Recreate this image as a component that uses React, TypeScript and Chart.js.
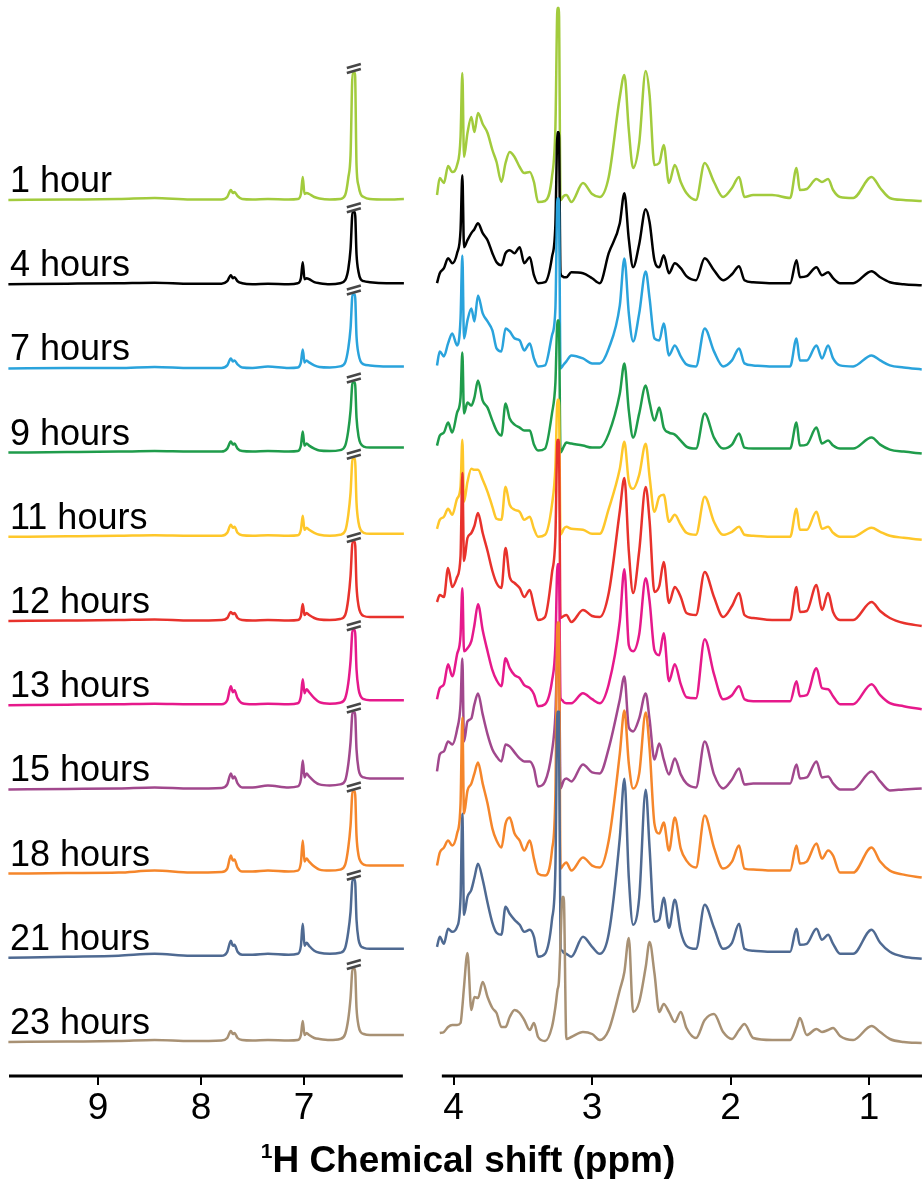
import React, { useEffect, useRef } from 'react';
import { Chart, registerables } from 'chart.js';

Chart.register(...registerables);

// ---------- data ----------
const HOURS = ['1 hour', '4 hours', '7 hours', '9 hours', '11 hours', '12 hours', '13 hours', '15 hours', '18 hours', '21 hours', '23 hours'];
const COLORS = ['#a2cb3d', '#000000', '#2aa3dc', '#1f9c4b', '#fec72a', '#e8322c', '#e6198b', '#a1488d', '#f5862b', '#4f6a92', '#a89174'];

const LEFT_TICKS = [9, 8, 7];
const RIGHT_TICKS = [4, 3, 2, 1];
const BREAK_PPM = 6.516;

// left panel chemical shifts (ppm)
const LEFT_PPM = [9.87, 9.3, 8.8, 8.45, 8.1, 7.8, 7.745, 7.71, 7.69, 7.675, 7.645, 7.6, 7.5, 7.35, 7.15, 7.06, 7.03, 7.012, 6.995, 6.975, 6.95, 6.9, 6.85, 6.75, 6.65, 6.6, 6.57, 6.548, 6.528, 6.505, 6.49, 6.47, 6.45, 6.42, 6.36, 6.2, 6.03];

// left panel intensities (one list per time point)
const L_1H = [0, 0.5, 1, 2, 0.5, 0.5, 3, 10, 7, 8, 4, 1, 0.5, 1, 0.5, 1, 6, 23, 6, 7, 6, 3, 1.5, 0.5, 1, 5, 22, 45, 127, 127, 35, 14, 6, 3, 1, 0.5, 1];
const L_4H = [0, 0.5, 1, 1.5, 0.5, 0.5, 3, 9, 6, 7, 3, 1, 0, 0.5, 0, 1, 6, 22, 5, 6, 5, 2, 1, 0, 1, 4, 15, 35, 72, 72, 30, 12, 5, 3, 2, 1, 1];
const L_7H = [0, 0.5, 0.5, 1.5, 0.5, 0.5, 3, 10, 7, 8, 4, 1, 0.5, 2, 0.5, 1, 6, 19, 6, 8, 6, 3, 1.5, 1, 2, 6, 20, 40, 74, 74, 32, 14, 7, 4, 3, 2, 2];
const L_9H = [0, 0.5, 1, 1.5, 1, 1, 4, 11, 8, 9, 4, 1.5, 1, 1.5, 1, 1.5, 7, 21, 7, 9, 7, 4, 2, 1.5, 2.5, 7, 22, 42, 70, 70, 35, 16, 9, 6, 5, 5, 5];
const L_11H = [0, 0.5, 1, 1.5, 1, 1, 4, 12, 9, 10, 4, 1.5, 1, 1.5, 1, 1.5, 7, 21, 7, 9, 7, 4, 2, 1, 2, 6, 22, 44, 78, 78, 34, 14, 7, 4, 3, 3, 3];
const L_12H = [0, 0.5, 1, 1.5, 0.5, 1, 3, 9, 7, 8, 3, 1, 0.5, 1, 0.5, 1, 5, 17, 6, 8, 6, 3, 1.5, 1, 2, 6, 22, 45, 79, 79, 35, 15, 8, 5, 4, 4, 4];
const L_13H = [0, 0.5, 1, 1.5, 1, 1, 5, 19, 13, 15, 7, 2, 1, 1.5, 1, 2, 9, 26, 12, 16, 13, 7, 3, 1.5, 2.5, 7, 22, 44, 75, 75, 36, 16, 9, 6, 5, 5, 5];
const L_15H = [0, 0.5, 1, 2, 1, 1.5, 5, 16, 11, 13, 6, 2, 2, 4, 2, 3, 10, 29, 12, 16, 13, 8, 5, 4, 5, 9, 25, 47, 77, 77, 40, 20, 14, 12, 11, 11, 11];
const L_18H = [0, 0.5, 1, 3, 1, 1.5, 5, 18, 13, 14, 6, 2, 2, 3, 2, 3, 11, 33, 12, 15, 12, 7, 4, 3, 4, 9, 26, 48, 82, 82, 38, 18, 12, 9, 8, 8, 8];
const L_21H = [0, 1, 2, 4, 2, 2, 6, 17, 12, 13, 6, 3, 3, 4, 3, 4, 12, 34, 12, 15, 12, 7, 5, 4, 5, 10, 26, 46, 78, 78, 38, 18, 12, 10, 9, 9, 9];
const L_23H = [0, 0.5, 1, 2, 1, 1.5, 4, 11, 8, 9, 4, 2, 1.5, 2, 1.5, 2, 7, 21, 7, 9, 7, 4, 3, 2, 3, 8, 23, 44, 73, 73, 34, 16, 10, 8, 7, 7, 7];

// right panel chemical shifts (ppm)
const RIGHT_PPM = [4.12, 4.10, 4.07, 4.04, 4.01, 3.975, 3.95, 3.937, 3.925, 3.90, 3.872, 3.85, 3.824, 3.79, 3.755, 3.72, 3.69, 3.655, 3.625, 3.595, 3.56, 3.523, 3.49, 3.45, 3.42, 3.39, 3.34, 3.29, 3.265, 3.25, 3.24,
  3.228, 3.215, 3.205, 3.186, 3.15, 3.066, 3.0, 2.945, 2.88, 2.80, 2.767, 2.735, 2.704, 2.66, 2.613, 2.585, 2.55, 2.515, 2.483, 2.445, 2.403, 2.36, 2.319, 2.25, 2.187, 2.12, 2.054, 1.99, 1.939, 1.9, 1.837, 1.7, 1.57, 1.524, 1.5, 1.45, 1.38, 1.34, 1.296, 1.26, 1.21, 1.115, 0.982, 0.92, 0.85, 0.75, 0.62];

// right panel intensities
const R_1H = [5, 22, 17, 34, 28, 35, 63, 127, 43, 67, 83, 68, 87, 76, 67, 50, 38, 18, 37, 48, 43, 33, 27, 28, 18, -2, -1, 23, 73, 192, 192,
  0, 2, 4, 5, -2, 17, 6, 3, 23, 103, 125, 70, 32, 57, 129, 105, 35, 37, 55, 17, 35, 18, 7, 0, 37, 18, 3, 12, 23, 3, 5, 5, 2, 32, 10, 11, 21, 18, 21, 10, 3, 2, 23, 12, 2, 0, -1];
const R_4H = [1, 11, 16, 26, 21, 31, 54, 109, 37, 44, 51, 55, 61, 51, 44, 31, 22, 19, 31, 34, 31, 37, 21, 27, 9, 1, 2, 27, 60, 152, 152,
  11, 8, 7, 7, 12, 11, 6, 1, 31, 61, 91, 45, 17, 40, 75, 62, 24, 17, 29, 11, 21, 16, 8, 4, 26, 14, 4, 10, 18, 4, 2, 1, 1, 24, 7, 8, 17, 9, 12, 6, 1, 1, 13, 7, 2, 0, -1];
const R_7H = [3, 17, 12, 25, 35, 23, 50, 113, 30, 48, 60, 47, 73, 55, 47, 38, 20, 17, 40, 37, 30, 28, 18, 25, 10, 2, 3, 33, 60, 170, 170,
  0, 2, 4, 7, 13, 10, 5, 5, 20, 63, 110, 55, 27, 55, 97, 70, 30, 28, 45, 13, 23, 12, 4, 2, 40, 17, 2, 8, 20, 5, 3, 2, 2, 30, 8, 8, 23, 10, 23, 10, 3, 2, 13, 8, 3, 1, -1];
const R_9H = [7, 17, 20, 30, 20, 40, 55, 100, 39, 50, 47, 55, 72, 52, 45, 32, 22, 17, 49, 34, 28, 25, 22, 22, 8, 2, 4, 39, 70, 132, 132,
  0, 3, 6, 10, 9, 7, 5, 5, 19, 59, 89, 42, 15, 39, 67, 50, 32, 45, 25, 20, 18, 12, 6, 4, 39, 15, 4, 8, 19, 5, 4, 4, 4, 30, 7, 8, 25, 9, 12, 7, 4, 4, 15, 8, 3, 1, -1];
const R_11H = [8, 17, 20, 28, 22, 38, 50, 97, 35, 55, 68, 67, 67, 57, 45, 30, 18, 17, 50, 32, 27, 25, 17, 20, 8, 0, 2, 32, 70, 137, 137,
  2, 5, 8, 10, 8, 7, 3, 3, 28, 68, 95, 55, 48, 62, 93, 60, 25, 40, 42, 15, 22, 12, 4, 2, 40, 15, 2, 5, 10, 2, 1, 0, 0, 28, 7, 7, 25, 8, 10, 4, 0, 0, 9, 5, 1, -1, -3];
const R_12H = [19, 26, 24, 53, 34, 44, 65, 148, 60, 83, 88, 95, 108, 88, 70, 50, 38, 33, 73, 44, 38, 33, 24, 31, 15, 1, 4, 48, 85, 181, 181,
  3, 4, 5, 6, -1, 11, 5, 4, 28, 110, 143, 70, 28, 70, 134, 100, 29, 35, 59, 18, 34, 24, 8, 6, 49, 24, 4, 15, 28, 6, 3, 1, 1, 34, 9, 10, 36, 11, 28, 9, 1, 1, 19, 10, 3, -2, -5];
const R_13H = [6, 17, 21, 41, 29, 51, 70, 117, 54, 57, 64, 80, 101, 75, 54, 35, 25, 19, 47, 37, 30, 27, 20, 17, 11, -1, 1, 24, 60, 141, 141,
  7, 5, 3, 2, 2, 12, 6, 2, 21, 84, 136, 60, 54, 71, 127, 104, 55, 50, 72, 24, 41, 21, 8, 7, 66, 31, 6, 10, 19, 6, 4, 4, 4, 24, 9, 10, 37, 17, 16, 9, 1, 1, 21, 10, 2, -1, -4];
const R_15H = [18, 35, 38, 48, 45, 60, 85, 131, 48, 68, 71, 85, 96, 75, 55, 40, 33, 28, 45, 43, 37, 31, 28, 28, 21, 3, 8, 38, 75, 140, 140,
  1, 5, 9, 11, 8, 25, 17, 16, 41, 90, 113, 62, 58, 71, 96, 70, 30, 46, 30, 15, 31, 15, 6, 2, 48, 15, 1, 10, 21, 5, 6, 6, 6, 25, 11, 12, 28, 12, 13, 6, 0, 0, 18, 8, -1, 0, 1];
const R_18H = [8, 21, 26, 33, 28, 40, 70, 156, 60, 83, 90, 100, 111, 90, 70, 45, 33, 26, 50, 56, 40, 33, 23, 33, 15, 0, -2, 23, 80, 251, 251,
  5, 7, 9, 11, 3, 16, 8, 6, 33, 120, 163, 110, 85, 100, 161, 125, 50, 40, 51, 23, 56, 25, 13, 6, 58, 26, 5, 12, 28, 5, 4, 3, 3, 28, 10, 12, 30, 15, 23, 18, 1, 1, 26, 12, 3, -1, -4];
const R_21H = [11, 21, 14, 29, 26, 31, 60, 144, 43, 61, 68, 80, 94, 78, 55, 35, 25, 23, 51, 44, 38, 33, 26, 28, 21, 1, 4, 38, 90, 246, 246,
  9, 7, 5, 4, 1, 21, 11, 4, 24, 120, 179, 80, 33, 60, 168, 110, 36, 38, 60, 30, 58, 26, 12, 9, 53, 30, 9, 15, 34, 9, 7, 6, 6, 29, 13, 14, 29, 18, 23, 14, 4, 4, 28, 15, 6, 1, -1];
const R_23H = [null, 9, 10, 15, 17, 17, 19, 35, 55, 89, 32, 45, 44, 60, 45, 34, 29, 15, 15, 25, 32, 29, 22, 12, 19, 5, 1, 15, 35, 52, 60,
  100, 145, 145, 3, 5, 10, 8, 2, 12, 52, 70, 104, 30, 40, 75, 100, 69, 30, 38, 30, 20, 30, 14, 4, 22, 28, 10, 3, 12, 18, 4, 2, 2, 15, 24, 7, 13, 10, 12, 14, 6, 2, 16, 10, 3, 0, -1];

const LEFT_SERIES = [L_1H, L_4H, L_7H, L_9H, L_11H, L_12H, L_13H, L_15H, L_18H, L_21H, L_23H];
const RIGHT_SERIES = [R_1H, R_4H, R_7H, R_9H, R_11H, R_12H, R_13H, R_15H, R_18H, R_21H, R_23H];

// ---------- layout constants ----------
const STEP = 84.2;
const BOTTOM_BASE = 34;
const Y_MAX = 1076;
const FONT = '"Liberation Sans", Arial, Helvetica, sans-serif';

const baseOf = (i: number) => BOTTOM_BASE + (HOURS.length - 1 - i) * STEP;

function buildDatasets(ppm: number[], series: (number | null)[][]) {
  return series.map((vals, i) => ({
    label: HOURS[i],
    data: ppm.map((p, k) => ({ x: p, y: vals[k] === null ? null : baseOf(i) + (vals[k] as number) })),
    borderColor: COLORS[i],
    backgroundColor: COLORS[i],
    borderWidth: 2.5,
    pointRadius: 0,
    cubicInterpolationMode: 'monotone' as const,
    borderJoinStyle: 'round' as const,
    fill: false,
    order: HOURS.length - 1 - i,
    clip: false as const,
  }));
}

function makeConfig(ppm: number[], series: (number | null)[][], xMin: number, xMax: number, ticks: number[], padding: any, plugin: any) {
  return {
    type: 'line' as const,
    data: { datasets: buildDatasets(ppm, series) },
    options: {
      responsive: false,
      animation: false as const,
      events: [],
      layout: { padding },
      plugins: { legend: { display: false }, tooltip: { enabled: false }, title: { display: false } },
      scales: {
        x: {
          type: 'linear' as const,
          reverse: true,
          min: xMin,
          max: xMax,
          afterBuildTicks: (s: any) => { s.ticks = ticks.map((v) => ({ value: v })); },
          afterFit: (s: any) => { s.height = 103; },
          grid: { display: true, drawOnChartArea: false, drawTicks: true, tickLength: 9, color: '#000', lineWidth: 2 },
          border: { display: false },
          ticks: { color: '#000', font: { family: FONT, size: 37 }, padding: 2, maxRotation: 0, autoSkip: false },
        },
        y: { type: 'linear' as const, min: 0, max: Y_MAX, display: false },
      },
    },
    plugins: [plugin],
  };
}

const axisLine = (chart: any, fromPpm: number | null, toPpm: number | null) => {
  const { ctx, chartArea, scales } = chart;
  const x = scales.x;
  const x0 = fromPpm === null ? chartArea.left : x.getPixelForValue(fromPpm);
  const x1 = toPpm === null ? chartArea.right : x.getPixelForValue(toPpm);
  ctx.save();
  ctx.fillStyle = '#000';
  ctx.fillRect(x0, chartArea.bottom - 1.5, x1 - x0, 3);
  ctx.restore();
};

const leftDecor = {
  id: 'leftDecor',
  afterDatasetsDraw(chart: any) {
    const { ctx, scales } = chart;
    const { x, y } = scales;
    ctx.save();
    LEFT_SERIES.forEach((s, i) => {
      const top = baseOf(i) + Math.max(...s);
      const px = x.getPixelForValue(BREAK_PPM);
      const py = y.getPixelForValue(top);
      ctx.strokeStyle = '#474747';
      ctx.lineWidth = 2.6;
      [py - 7, py - 2].forEach((cy) => {
        ctx.beginPath();
        ctx.moveTo(px - 7, cy + 2);
        ctx.lineTo(px + 7, cy - 2);
        ctx.stroke();
      });
    });
    ctx.fillStyle = '#000';
    ctx.font = `36px ${FONT}`;
    ctx.textAlign = 'left';
    ctx.textBaseline = 'alphabetic';
    HOURS.forEach((h, i) => {
      ctx.fillText(h, 10, y.getPixelForValue(baseOf(i)) - 8);
    });
    ctx.restore();
  },
  afterDraw(chart: any) { axisLine(chart, null, 6.04); },
};

const rightDecor = {
  id: 'rightDecor',
  afterDraw(chart: any) { axisLine(chart, 4.085, null); },
};

export default function App() {
  const leftRef = useRef<HTMLCanvasElement>(null);
  const rightRef = useRef<HTMLCanvasElement>(null);

  useEffect(() => {
    const left = new Chart(leftRef.current as HTMLCanvasElement, makeConfig(LEFT_PPM, LEFT_SERIES, 6.029, 9.864, LEFT_TICKS, { left: 9, right: 16, top: 0, bottom: 0 }, leftDecor) as any);
    const right = new Chart(rightRef.current as HTMLCanvasElement, makeConfig(RIGHT_PPM, RIGHT_SERIES, 0.618, 4.12, RIGHT_TICKS, { left: 7, right: 0, top: 0, bottom: 0 }, rightDecor) as any);
    return () => { left.destroy(); right.destroy(); };
  }, []);

  return (
    <div style={{ position: 'absolute', left: 0, top: 0, width: 922, height: 1179, background: '#fff', overflow: 'hidden' }}>
      <canvas ref={leftRef} width={420} height={1179} style={{ position: 'absolute', left: 0, top: 0, width: 420, height: 1179 }} />
      <canvas ref={rightRef} width={492} height={1179} style={{ position: 'absolute', left: 430, top: 0, width: 492, height: 1179 }} />
      <div style={{ position: 'absolute', left: 0, top: 1141, width: 936, textAlign: 'center', fontFamily: FONT, fontWeight: 'bold', fontSize: 37, lineHeight: '37px', whiteSpace: 'nowrap', color: '#000' }}>
        <span style={{ fontSize: 21, position: 'relative', top: -14 }}>1</span>H Chemical shift (ppm)
      </div>
    </div>
  );
}
